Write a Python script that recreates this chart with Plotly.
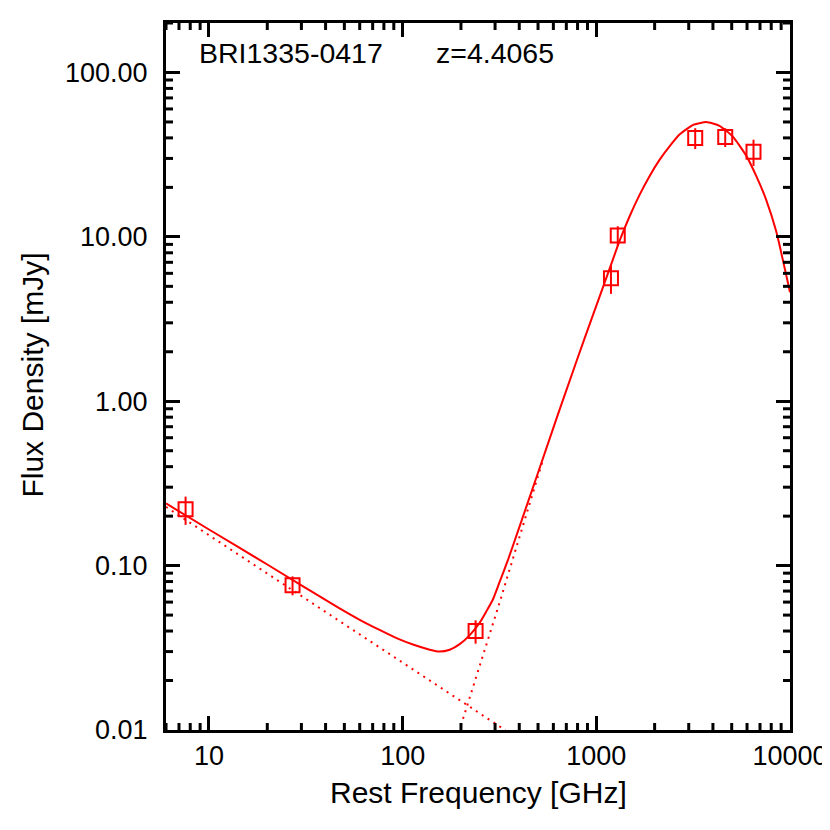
import plotly.graph_objects as go

# observed points (rest frame)
freq = [7.57, 27.0, 238, 1190, 1290, 3240, 4630, 6480]
flux = [0.22, 0.076, 0.040, 5.6, 10.2, 40.0, 40.5, 33.0]
flux_err = [0.043, 0.010, 0.0065, 1.1, 1.4, 5.8, 5.3, 6.0]

# total model curve
model_freq = [6, 10, 20, 47, 60, 76, 93, 113, 138, 155, 175, 197, 222, 250, 270,
              292, 316, 349, 398, 501, 631, 794, 941, 1170, 1318, 1484, 1672, 1882,
              2120, 2388, 2688, 3028, 3162, 3693, 4325, 5068, 5940, 6690, 7535,
              8487, 10000]
model_flux = [0.239, 0.1658, 0.1016, 0.0551, 0.0468, 0.0406, 0.0362, 0.0331,
              0.0308, 0.0300, 0.0308, 0.0333, 0.0378, 0.0450, 0.0525, 0.0620, 0.0790,
              0.1075, 0.1680, 0.3700, 0.820, 1.782, 3.127, 6.38, 9.44, 13.3,
              18.0, 23.4, 29.4, 35.5, 41.9, 46.5, 48.0, 49.9, 47.4, 40.7, 31.2,
              23.5, 16.8, 10.8, 4.6]

# synchrotron power law component
sync_freq = [6, 340]
sync_flux = [0.2275, 0.00995]

# dust component (rising part)
dust_freq = [195, 316, 530]
dust_flux = [0.0097, 0.0592, 0.440]

# tick values
major_x = [10, 100, 1000, 10000]
major_y = [0.01, 0.1, 1, 10, 100]
minor_x = [6, 7, 8, 9, 20, 30, 40, 50, 60, 70, 80, 90, 200, 300, 400, 500, 600,
           700, 800, 900, 2000, 3000, 4000, 5000, 6000, 7000, 8000, 9000]
minor_y = [m * d for d in [0.01, 0.1, 1, 10] for m in range(2, 10)] + [200]

red = "#ff0000"
fnt = "Liberation Sans, Arial, Helvetica, sans-serif"

fig = go.Figure()
fig.add_trace(go.Scatter(x=sync_freq, y=sync_flux, mode="lines",
                         line=dict(color=red, width=2, dash="2px,5px"), showlegend=False))
fig.add_trace(go.Scatter(x=dust_freq, y=dust_flux, mode="lines",
                         line=dict(color=red, width=2, dash="2px,5px"), showlegend=False))
fig.add_trace(go.Scatter(x=model_freq, y=model_flux, mode="lines",
                         line=dict(color=red, width=2, shape="spline", smoothing=0.5),
                         showlegend=False))
fig.add_trace(go.Scatter(x=freq, y=flux, mode="markers",
                         marker=dict(symbol="square-open", size=14, color=red,
                                     line=dict(color=red, width=2)),
                         error_y=dict(type="data", array=flux_err, width=0,
                                      thickness=2, color=red),
                         showlegend=False))

axis_common = dict(
    type="log", showgrid=False, zeroline=False, showline=True, linecolor="black",
    linewidth=3, mirror="allticks", ticks="inside", ticklen=14, tickwidth=3,
    tickcolor="black", tickmode="array", automargin=False,
    tickfont=dict(family=fnt, size=27, color="black"),
)

fig.update_xaxes(**axis_common, range=[0.778, 4.0], tickvals=major_x,
                 ticktext=["10", "100", "1000", "10000"])
fig.update_yaxes(**axis_common, range=[-2, 2.301], tickvals=major_y,
                 ticktext=["0.01", "0.10", "1.00", "10.00", "100.00"],
                 ticklabelstandoff=10)

# minor ticks, IDL style, on all four sides
tick = dict(color="black", width=3)
for v in minor_x:
    for anchor, d in [(0, 7), (1, -7)]:
        fig.add_shape(type="line", xref="x", yref="paper", x0=v, x1=v,
                      ysizemode="pixel", yanchor=anchor, y0=0, y1=d, line=tick)
for v in minor_y:
    for anchor, d in [(0, 7), (1, -7)]:
        fig.add_shape(type="line", yref="y", xref="paper", y0=v, y1=v,
                      xsizemode="pixel", xanchor=anchor, x0=0, x1=d, line=tick)

# axis titles
fig.add_annotation(x=0.5, y=-0.088, xref="paper", yref="paper",
                   text="Rest Frequency [GHz]", showarrow=False,
                   xanchor="center", yanchor="middle",
                   font=dict(family=fnt, size=30, color="black"))
fig.add_annotation(x=-0.214, y=0.502, xref="paper", yref="paper",
                   text="Flux Density [mJy]", showarrow=False, textangle=-90,
                   xanchor="center", yanchor="middle",
                   font=dict(family=fnt, size=30, color="black"))

fig.add_annotation(x=0.05, y=0.9576, xref="paper", yref="paper", text="BRI1335-0417",
                   showarrow=False, xanchor="left", yanchor="middle",
                   font=dict(family=fnt, size=28.5, color="black"))
fig.add_annotation(x=0.429, y=0.9576, xref="paper", yref="paper", text="z=4.4065",
                   showarrow=False, xanchor="left", yanchor="middle",
                   font=dict(family=fnt, size=28.5, color="black"))

fig.update_layout(width=822, height=822, plot_bgcolor="white", paper_bgcolor="white",
                  margin=dict(l=158, r=40, t=15, b=100))

fig.write_html("out.html")
